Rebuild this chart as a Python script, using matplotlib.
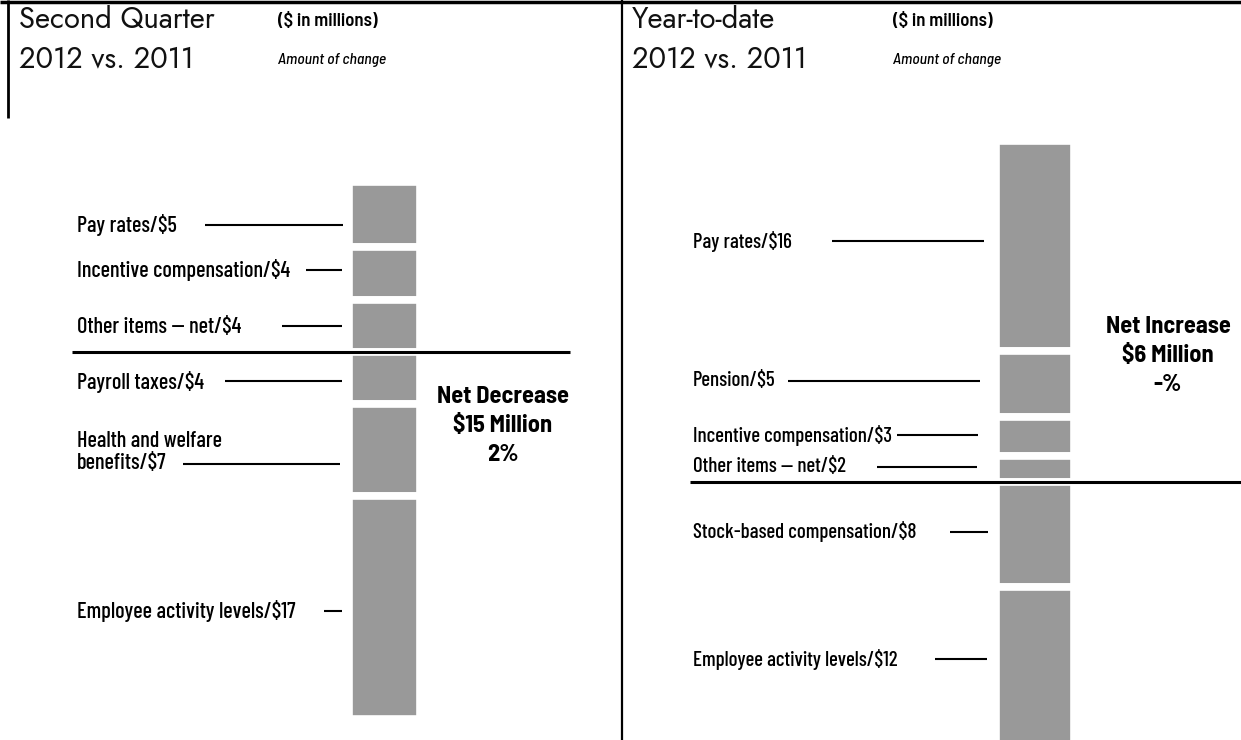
import numpy as np
import matplotlib
matplotlib.use("Agg")
import matplotlib.pyplot as plt

# ---------------- data ----------------
q2_labels = ["Pay rates/\\$5", "Incentive compensation/\\$4", "Other items \u2014 net/\\$4",
             "Payroll taxes/\\$4", "Health and welfare\nbenefits/\\$7", "Employee activity levels/\\$17"]
q2_values = [5, 4, 4, -4, -7, -17]
ytd_labels = ["Pay rates/\\$16", "Pension/\\$5", "Incentive compensation/\\$3", "Other items \u2014 net/\\$2",
              "Stock-based compensation/\\$8", "Employee activity levels/\\$12"]
ytd_values = [16, 5, 3, 2, -8, -12]
q2_title = ["Second Quarter", "2012 vs. 2011"]
ytd_title = ["Year-to-date", "2012 vs. 2011"]
q2_net = "Net Decrease\n\\$15 Million\n2%"
ytd_net = "Net Increase\n\\$6 Million\n-%"
unit_text = "(\\$ in millions)"
sub_text = "Amount of change"

# ---------------- layout ----------------
W, H = 1241, 740
PX_PER_UNIT = 13.1
COND = ["Barlow Condensed", "DejaVu Sans"]
SEMI = ["Barlow Semi Condensed", "Barlow Condensed", "DejaVu Sans"]
TITLE = ["Jost", "DejaVu Sans"]
GREY = "#999999"

fig = plt.figure(figsize=(W / 100, H / 100), dpi=100)

def stack(values):
    vals = np.array(values, dtype=float)
    bottoms = np.zeros_like(vals)
    pos = np.where(vals > 0)[0]
    neg = np.where(vals < 0)[0]
    acc = 0.0
    for i in pos[::-1]:
        bottoms[i] = acc
        acc += vals[i]
    acc = 0.0
    for i in neg:
        bottoms[i] = acc
        acc += vals[i]
    return vals, bottoms

def bar_axes(values, base_px, x0, x1):
    ax = fig.add_axes([0, 0, 1, 1])
    ax.set_xlim(0, W)
    ax.set_ylim(-(H - base_px) / PX_PER_UNIT, base_px / PX_PER_UNIT)
    ax.axis("off")
    ax.patch.set_alpha(0)
    vals, bottoms = stack(values)
    ax.bar([(x0 + x1) / 2] * len(vals), vals, bottom=bottoms, width=x1 - x0,
           color=GREY, edgecolor="white", linewidth=5.5)
    return ax

bar_axes(q2_values, 352, 349, 420)
bar_axes(ytd_values, 482, 996, 1074)

# overlay in pixel coordinates for frame, leaders and text
ov = fig.add_axes([0, 0, 1, 1])
ov.set_xlim(0, W)
ov.set_ylim(H, 0)
ov.axis("off")
ov.patch.set_alpha(0)

# frame
ov.plot([0, W], [2, 2], color="black", lw=2.5, solid_capstyle="butt")
ov.plot([8, 8], [0, 118], color="black", lw=2.0, solid_capstyle="butt")
ov.plot([622, 622], [0, H], color="black", lw=1.6, solid_capstyle="butt")
# baselines
ov.plot([72, 570], [352, 352], color="black", lw=2.2, solid_capstyle="butt")
ov.plot([690, W], [482, 482], color="black", lw=2.2, solid_capstyle="butt")

# titles
for (t, x) in [(q2_title, 19), (ytd_title, 632)]:
    ov.text(x, 20, t[0], fontsize=21, family=TITLE, va="center", ha="left", color="#111111")
    ov.text(x, 59, t[1], fontsize=21, family=TITLE, va="center", ha="left", color="#111111")
for x in [278, 893]:
    ov.text(x, 21, unit_text, fontsize=13.5, family=SEMI, va="center", ha="left", fontweight=600)
    ov.text(x, 60, sub_text, fontsize=11.2, family=SEMI, va="center", ha="left", style="italic",
            fontweight=500)

# labels + leader lines: (text y, line y, line x0, line x1)
q2_pos = [(225, 225, 205, 343), (270, 270, 306, 342), (327, 326, 282, 342),
          (382, 381, 225, 342), (452, 464, 183, 340), (611, 611, 324, 342)]
ytd_pos = [(242, 241, 832, 984), (381, 381, 788, 980), (435, 435, 897, 978),
           (467, 467, 877, 977), (532, 532, 950, 988), (659, 659, 935, 987)]

for labels, poss, tx, fs in [(q2_labels, q2_pos, 77, 16), (ytd_labels, ytd_pos, 693, 15)]:
    for lab, (ty, ly, lx0, lx1) in zip(labels, poss):
        ov.text(tx, ty, lab, fontsize=fs, family=COND, fontweight=500, va="center", ha="left",
                linespacing=1.15)
        ov.plot([lx0, lx1], [ly, ly], color="black", lw=1.5, solid_capstyle="butt")

ov.text(503, 426, q2_net, fontsize=17.5, family=SEMI, fontweight="bold", ha="center",
        va="center", linespacing=1.4)
ov.text(1168, 356, ytd_net, fontsize=17.5, family=SEMI, fontweight="bold", ha="center",
        va="center", linespacing=1.4)

fig.savefig("out.png", dpi=100)
